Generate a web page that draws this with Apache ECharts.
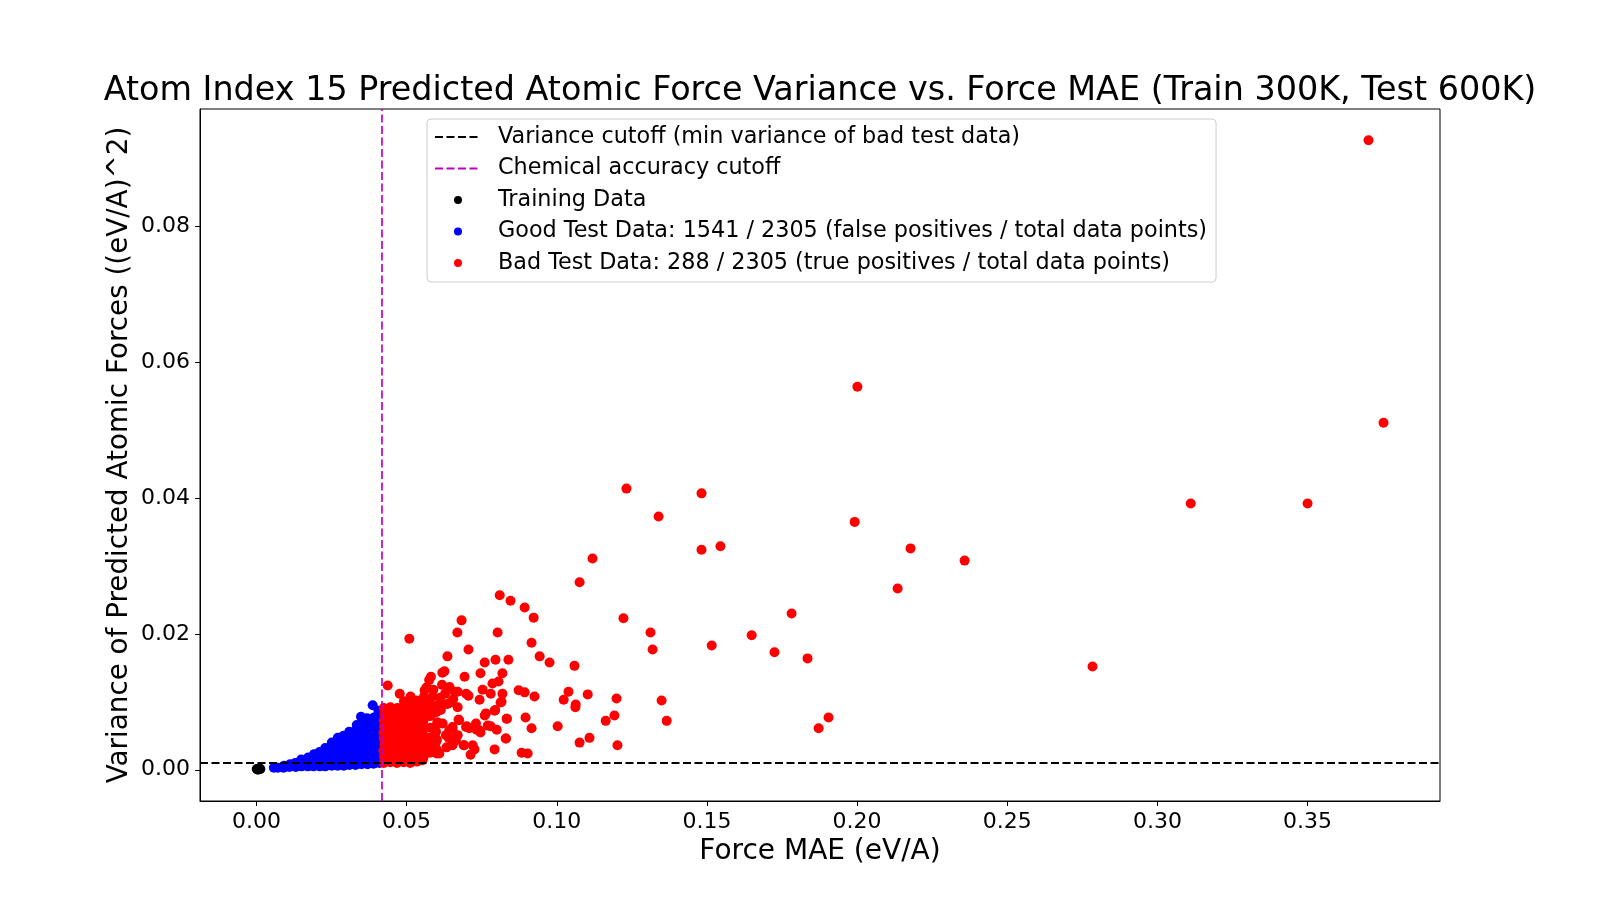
<!DOCTYPE html>
<html>
<head>
<meta charset="utf-8">
<script src="https://cdn.jsdelivr.net/npm/echarts@6/dist/echarts.min.js"></script>
<style>
  html, body { margin: 0; padding: 0; background: #fff; }
  #chart { width: 1600px; height: 900px; }
</style>
</head>
<body>
<div id="chart"></div>
<script>
// axis extents and ticks
var xMin = -0.0188, xMax = 0.3941;
var yMin = -0.0046, yMax = 0.0973;
var xTicks = [0, 0.05, 0.10, 0.15, 0.20, 0.25, 0.30, 0.35];
var yTicks = [0, 0.02, 0.04, 0.06, 0.08];

// cutoffs
var varianceCutoff = 0.0010;
var chemCutoff = 0.0418;

// [force MAE, variance]
var trainPoints = [[0.0001,0.0001],[0.0005,0.0000],[0.0009,0.0002],[0.0013,0.0001],[0.0007,0.0001]];

var goodPoints = [
  [0.0058,0.0003],[0.0071,0.0003],[0.0090,0.0003],[0.0092,0.0006],
  [0.0110,0.0004],[0.0112,0.0008],[0.0131,0.0004],[0.0129,0.0010],
  [0.0150,0.0005],[0.0152,0.0010],[0.0149,0.0015],
  [0.0171,0.0005],[0.0169,0.0011],[0.0172,0.0018],
  [0.0190,0.0005],[0.0191,0.0011],[0.0189,0.0018],[0.0192,0.0023],
  [0.0211,0.0005],[0.0209,0.0012],[0.0212,0.0019],[0.0210,0.0026],
  [0.0229,0.0005],[0.0231,0.0012],[0.0230,0.0019],[0.0232,0.0026],[0.0229,0.0032],
  [0.0251,0.0006],[0.0249,0.0013],[0.0250,0.0020],[0.0252,0.0027],[0.0248,0.0034],[0.0251,0.0040],
  [0.0270,0.0006],[0.0271,0.0013],[0.0269,0.0020],[0.0272,0.0027],[0.0270,0.0034],[0.0268,0.0041],[0.0271,0.0047],
  [0.0291,0.0006],[0.0289,0.0013],[0.0290,0.0021],[0.0292,0.0028],[0.0289,0.0035],[0.0291,0.0042],[0.0290,0.0050],
  [0.0310,0.0007],[0.0311,0.0014],[0.0309,0.0021],[0.0312,0.0029],[0.0310,0.0036],[0.0308,0.0043],[0.0311,0.0050],[0.0309,0.0056],
  [0.0330,0.0007],[0.0331,0.0014],[0.0329,0.0022],[0.0332,0.0029],[0.0330,0.0037],[0.0331,0.0044],[0.0329,0.0051],[0.0332,0.0058],[0.0334,0.0066],
  [0.0350,0.0008],[0.0349,0.0015],[0.0351,0.0022],[0.0350,0.0030],[0.0352,0.0037],[0.0349,0.0045],[0.0351,0.0052],[0.0350,0.0060],[0.0352,0.0067],[0.0348,0.0078],
  [0.0370,0.0008],[0.0371,0.0015],[0.0369,0.0023],[0.0370,0.0030],[0.0372,0.0038],[0.0370,0.0045],[0.0369,0.0053],[0.0371,0.0060],[0.0370,0.0068],[0.0368,0.0076],
  [0.0390,0.0009],[0.0389,0.0016],[0.0391,0.0024],[0.0390,0.0031],[0.0392,0.0039],[0.0389,0.0046],[0.0391,0.0054],[0.0390,0.0061],[0.0389,0.0069],[0.0391,0.0077],[0.0387,0.0095],
  [0.0410,0.0010],[0.0411,0.0018],[0.0409,0.0025],[0.0412,0.0033],[0.0410,0.0040],[0.0411,0.0048],[0.0409,0.0056],[0.0412,0.0063],[0.0410,0.0071],[0.0411,0.0080],[0.0406,0.0087]
];

// dense part of the bad test data, just right of the cutoff
var badCore = [
  [0.0424,0.0010],[0.0425,0.0019],[0.0423,0.0028],[0.0426,0.0037],[0.0424,0.0046],[0.0423,0.0055],[0.0425,0.0064],[0.0424,0.0073],[0.0426,0.0082],[0.0424,0.0091],
  [0.0446,0.0011],[0.0445,0.0020],[0.0447,0.0029],[0.0446,0.0038],[0.0444,0.0047],[0.0447,0.0056],[0.0446,0.0065],[0.0445,0.0074],[0.0447,0.0083],[0.0446,0.0092],
  [0.0468,0.0010],[0.0469,0.0019],[0.0467,0.0028],[0.0468,0.0037],[0.0470,0.0046],[0.0467,0.0055],[0.0469,0.0064],[0.0468,0.0073],[0.0466,0.0082],[0.0469,0.0091],
  [0.0490,0.0011],[0.0491,0.0020],[0.0489,0.0029],[0.0492,0.0038],[0.0490,0.0047],[0.0489,0.0056],[0.0491,0.0065],[0.0490,0.0074],[0.0492,0.0083],[0.0489,0.0092],[0.0491,0.0101],
  [0.0512,0.0010],[0.0513,0.0019],[0.0511,0.0028],[0.0512,0.0037],[0.0514,0.0046],[0.0511,0.0055],[0.0513,0.0064],[0.0512,0.0073],[0.0510,0.0082],[0.0513,0.0091],[0.0512,0.0100],
  [0.0534,0.0012],[0.0535,0.0021],[0.0533,0.0030],[0.0534,0.0039],[0.0536,0.0048],[0.0533,0.0057],[0.0535,0.0066],[0.0534,0.0075],[0.0532,0.0084],[0.0535,0.0093],[0.0534,0.0102],
  [0.0556,0.0018],[0.0555,0.0027],[0.0557,0.0036],[0.0556,0.0045],[0.0554,0.0054],[0.0557,0.0063],[0.0556,0.0072],[0.0555,0.0081],[0.0557,0.0090],[0.0556,0.0099],[0.0558,0.0108],
  [0.0578,0.0025],[0.0579,0.0034],[0.0577,0.0047],[0.0580,0.0062],[0.0578,0.0079],[0.0579,0.0088],[0.0576,0.0100],
  [0.0600,0.0030],[0.0601,0.0044],[0.0598,0.0056],[0.0602,0.0070],[0.0600,0.0085],[0.0603,0.0095]
];

// the rest of the bad test data
var badSpread = [
  [0.0437,0.0124],[0.0477,0.0112],[0.0513,0.0108],[0.0509,0.0193],[0.0566,0.0121],[0.0575,0.0132],[0.0581,0.0137],
  [0.0619,0.0143],[0.0626,0.0145],[0.0636,0.0167],[0.0643,0.0122],[0.0660,0.0115],[0.0669,0.0202],[0.0683,0.0220],
  [0.0670,0.0115],[0.0693,0.0137],[0.0706,0.0177],[0.0706,0.0109],[0.0698,0.0112],[0.0746,0.0142],[0.0753,0.0118],
  [0.0760,0.0158],[0.0780,0.0112],[0.0743,0.0103],[0.0786,0.0127],[0.0806,0.0130],[0.0796,0.0162],[0.0810,0.0257],
  [0.0803,0.0202],[0.0816,0.0100],[0.0819,0.0142],[0.0819,0.0112],[0.0839,0.0162],[0.0846,0.0249],[0.0873,0.0117],
  [0.0893,0.0114],[0.0893,0.0239],[0.0916,0.0187],[0.0923,0.0224],[0.0926,0.0108],[0.0943,0.0167],[0.0976,0.0158],
  [0.1059,0.0153],[0.1039,0.0115],[0.1023,0.0103],[0.1063,0.0096],[0.1062,0.0092],[0.1103,0.0111],[0.1076,0.0276],
  [0.1119,0.0311],[0.1199,0.0105],[0.1222,0.0223],[0.1232,0.0414],[0.1312,0.0202],[0.1319,0.0177],[0.1339,0.0373],
  [0.1349,0.0102],[0.1366,0.0072],[0.1482,0.0407],[0.1482,0.0324],[0.1545,0.0329],[0.1516,0.0183],[0.1649,0.0198],
  [0.1725,0.0173],[0.1782,0.0230],[0.1835,0.0164],[0.1872,0.0061],[0.1905,0.0077],[0.1192,0.0080],[0.1163,0.0072],
  [0.1003,0.0064],[0.1109,0.0047],[0.1076,0.0040],[0.1202,0.0036],[0.0833,0.0075],[0.0896,0.0077],[0.0916,0.0061],
  [0.0830,0.0046],[0.0793,0.0030],[0.0883,0.0025],[0.0903,0.0024],[0.0690,0.0036],[0.0726,0.0030],[0.0713,0.0022],
  [0.0746,0.0055],[0.0780,0.0064],[0.0800,0.0059],[0.0760,0.0080],[0.0793,0.0087],[0.0813,0.0099],[0.0700,0.0064],
  [0.0733,0.0059],[0.0673,0.0074],[0.0653,0.0059],[0.0640,0.0047],[0.0633,0.0033],[0.0600,0.0024],[0.0573,0.0040],
  [0.0620,0.0068],[0.0586,0.0083],[0.0646,0.0099],[0.0620,0.0095],[0.0587,0.0108],[0.0560,0.0117],[0.0636,0.0097],
  [0.0670,0.0092],[0.0614,0.0088],[0.0609,0.0068],[0.0653,0.0063],[0.0631,0.0051],[0.0670,0.0051],[0.0709,0.0061],
  [0.0598,0.0041],[0.0653,0.0036],[0.0692,0.0036],[0.0564,0.0029],[0.0609,0.0024],[0.0553,0.0014],[0.0720,0.0036],
  [0.0731,0.0068],[0.0764,0.0083],[0.0795,0.0088],[0.0834,0.0075],[0.0675,0.0073],[0.0698,0.0063],[0.0742,0.0058],
  [0.0770,0.0065],[0.0831,0.0046],[0.0664,0.0043],[0.0642,0.0058],[0.0595,0.0053],
  [0.0589,0.0118],[0.0612,0.0106],[0.0628,0.0112],[0.0655,0.0104],[0.0618,0.0125],
  [0.1992,0.0365],[0.2001,0.0564],[0.2135,0.0267],[0.2178,0.0326],[0.2358,0.0308],[0.2784,0.0152],
  [0.3111,0.0392],[0.3500,0.0392],[0.3703,0.0927],[0.3753,0.0511]
];

var legendNames = [
  'Variance cutoff (min variance of bad test data)',
  'Chemical accuracy cutoff',
  'Training Data',
  'Good Test Data: 1541 / 2305 (false positives / total data points)',
  'Bad Test Data: 288 / 2305 (true positives / total data points)'
];

var FONT = 'DejaVu Sans';
var chart = echarts.init(document.getElementById('chart'));

function tickLabel(v) {
  return v.toFixed(2);
}

// line entries get no marker dot in the legend
var legendData = legendNames.map(function (name, i) {
  if (i < 2) {
    return { name: name, itemStyle: { color: 'rgba(0,0,0,0)', opacity: 0, borderWidth: 0 } };
  }
  return { name: name };
});

var option = {
  animation: false,
  backgroundColor: '#ffffff',
  title: {
    text: 'Atom Index 15 Predicted Atomic Force Variance vs. Force MAE (Train 300K, Test 600K)',
    left: 815,
    textAlign: 'center',
    top: 70,
    textStyle: { fontFamily: FONT, fontSize: 33.4, fontWeight: 'normal', color: '#000' }
  },
  grid: {
    left: 200, right: 160, top: 109, bottom: 99,
    show: true, borderColor: '#000', borderWidth: 1, backgroundColor: 'transparent'
  },
  legend: {
    data: legendData,
    orient: 'vertical',
    left: 427, top: 119,
    padding: [7, 9, 8, 7],
    itemWidth: 46, itemHeight: 8, itemGap: 9.5,
    backgroundColor: '#ffffff',
    borderColor: '#cccccc', borderWidth: 1, borderRadius: 4,
    selectedMode: false,
    textStyle: { fontFamily: FONT, fontSize: 22.3, color: '#000', lineHeight: 22, padding: [0, 0, 0, 12] }
  },
  xAxis: {
    type: 'value', min: xMin, max: xMax,
    name: 'Force MAE (eV/A)', nameLocation: 'middle', nameGap: 33,
    nameTextStyle: { fontFamily: FONT, fontSize: 28, color: '#000' },
    axisLine: { show: true, onZero: false, lineStyle: { color: '#000', width: 1 } },
    axisTick: { show: true, length: 5, customValues: xTicks, lineStyle: { color: '#000', width: 1 } },
    axisLabel: { customValues: xTicks, formatter: tickLabel, margin: 10,
      fontFamily: FONT, fontSize: 22, color: '#000' },
    splitLine: { show: false }
  },
  yAxis: {
    type: 'value', min: yMin, max: yMax,
    name: 'Variance of Predicted Atomic Forces ((eV/A)^2)', nameLocation: 'middle', nameGap: 66,
    nameMoveOverlap: false,
    nameTextStyle: { fontFamily: FONT, fontSize: 27.8, color: '#000' },
    axisLine: { show: true, onZero: false, lineStyle: { color: '#000', width: 1 } },
    axisTick: { show: true, length: 5, customValues: yTicks, lineStyle: { color: '#000', width: 1 } },
    axisLabel: { customValues: yTicks, formatter: tickLabel, margin: 10,
      fontFamily: FONT, fontSize: 22, color: '#000' },
    splitLine: { show: false }
  },
  series: [
    {
      name: legendNames[0], type: 'line', symbol: 'none', silent: true, z: 10,
      data: [[xMin, varianceCutoff], [xMax, varianceCutoff]],
      lineStyle: { color: '#000000', width: 2, type: [8, 3.5] },
      itemStyle: { color: '#000000' }
    },
    {
      name: legendNames[1], type: 'line', symbol: 'none', silent: true, z: 10,
      data: [[chemCutoff, yMin], [chemCutoff, yMax]],
      lineStyle: { color: '#bf00bf', width: 1.7, type: [8, 3.5] },
      itemStyle: { color: '#bf00bf' }
    },
    {
      name: legendNames[2], type: 'scatter', symbolSize: 10, z: 3,
      data: trainPoints, itemStyle: { color: '#000000', opacity: 1 }
    },
    {
      name: legendNames[3], type: 'scatter', symbolSize: 10, z: 4,
      data: goodPoints, itemStyle: { color: '#0000ff', opacity: 1 }
    },
    {
      name: legendNames[4], type: 'scatter', symbolSize: 10, z: 5,
      data: badCore.concat(badSpread), itemStyle: { color: '#ff0000', opacity: 1 }
    }
  ]
};

chart.setOption(option);
</script>
</body>
</html>
